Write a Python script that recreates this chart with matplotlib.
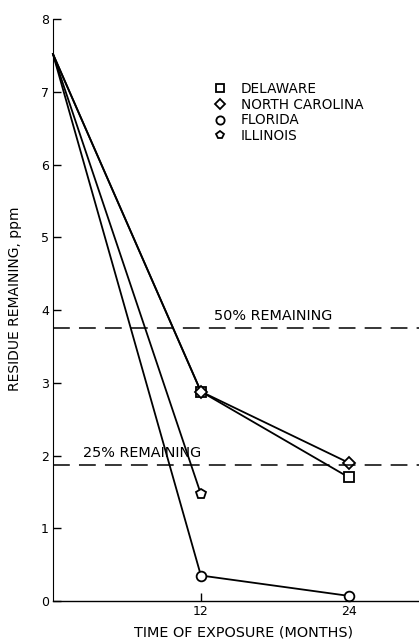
#!/usr/bin/env python3

import numpy as np
from matplotlib import pyplot as plt

months = [0, 12, 24]
delaware = [7.52, 2.88, 1.7]
north_carolina = [7.52, 2.88, 1.9]
florida = [7.52, 0.35, 0.07]
illinois_months = [0, 12]
illinois = [7.52, 1.47]

half_level = 3.75
quarter_level = 1.875

plt.rcParams['font.family'] = ['DejaVu Sans']

fig = plt.figure(figsize=(4.19, 6.4), dpi=100)
ax = fig.add_axes([0.1265, 0.061, 0.8735, 0.909])

kw = dict(color='black', lw=1.3, mfc='white', mec='black', mew=1.3, ms=7, clip_on=False)
ax.plot(months, delaware, marker='s', markevery=[1, 2], label='DELAWARE', **kw)
ax.plot(months, north_carolina, marker='D', markevery=[1, 2], label='NORTH CAROLINA',
        **{**kw, 'ms': 6})
ax.plot(months, florida, marker='o', markevery=[1, 2], label='FLORIDA', **kw)
ax.plot(illinois_months, illinois, marker='p', markevery=[1], label='ILLINOIS', **kw)

ax.axhline(half_level, color='black', lw=1.1, dashes=(11, 6))
ax.axhline(quarter_level, color='black', lw=1.1, dashes=(11, 6))
ax.text(13.1, half_level + 0.07, '50% REMAINING', fontsize=10.4, va='bottom')
ax.text(2.45, quarter_level + 0.07, '25% REMAINING', fontsize=10.4, va='bottom')

ax.set_xlim(0, 29.7)
ax.set_ylim(0, 8)
ax.set_xticks([12, 24])
ax.set_yticks(range(0, 9))
ax.tick_params(direction='in', length=6, width=1, labelsize=9, pad=3)
for s in ['top', 'right']:
  ax.spines[s].set_visible(False)
ax.spines['left'].set_linewidth(0.8)
ax.spines['bottom'].set_linewidth(1.0)

ax.set_xlabel('TIME OF EXPOSURE (MONTHS)', fontsize=10.4)
ax.xaxis.set_label_coords(0.52, -0.043)
ax.set_ylabel('RESIDUE REMAINING, ppm', fontsize=10)
ax.yaxis.set_label_coords(-0.085, 0.52)

ax.legend(loc='upper left', bbox_to_anchor=(0.424, 0.904), frameon=False, fontsize=9.8,
          handlelength=0.8, handletextpad=1.1, labelspacing=0.13, borderpad=0,
          markerscale=0.85)
leg = ax.get_legend()
for h in leg.get_lines():
  h.set_linestyle('none')

plt.savefig('out.png', dpi=100)
